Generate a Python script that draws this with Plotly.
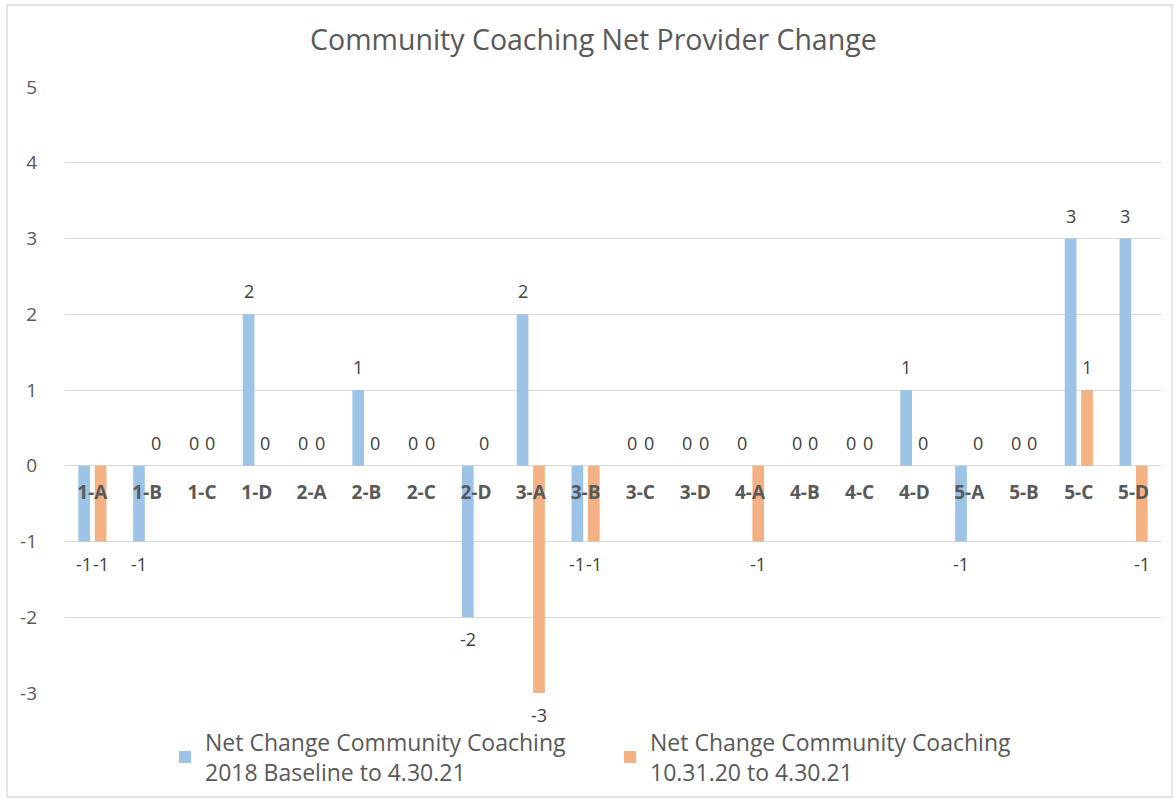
import plotly.graph_objects as go

categories = ["1-A", "1-B", "1-C", "1-D", "2-A", "2-B", "2-C", "2-D", "3-A", "3-B",
              "3-C", "3-D", "4-A", "4-B", "4-C", "4-D", "5-A", "5-B", "5-C", "5-D"]
baseline_2018 = [-1, -1, 0, 2, 0, 1, 0, -2, 2, -1, 0, 0, 0, 0, 0, 1, -1, 0, 3, 3]
since_oct_2020 = [-1, 0, 0, 0, 0, 0, 0, 0, -3, -1, 0, 0, -1, 0, 0, 0, 0, 0, 1, -1]
series_names = ["Net Change Community Coaching<br>2018 Baseline to 4.30.21",
                "Net Change Community Coaching<br>10.31.20 to 4.30.21"]
y_ticks = [-3, -2, -1, 0, 1, 2, 3, 4, 5]

FONT = "Open Sans, sans-serif"
W, H = 1175, 799
L, R, T, B = 65, 14, 87, 106

fig = go.Figure()
series = [(series_names[0], baseline_2018, "#9DC3E6", -8.3),
          (series_names[1], since_oct_2020, "#F4B183", 8.3)]
annotations = []
for name, vals, color, shift in series:
    fig.add_trace(go.Bar(
        x=categories, y=vals, name=name, marker=dict(color=color, line=dict(width=0)),
    ))
    for c, v in zip(categories, vals):
        annotations.append(dict(
            x=c, y=v, xref="x", yref="y", text=str(v), showarrow=False,
            xshift=shift, yshift=23 if v >= 0 else -22, xanchor="center", yanchor="middle",
            font=dict(family=FONT, size=18, color="#404040"),
        ))

pw, ph = W - L - R, H - T - B
def px(x):
    return (x - L) / pw
def py(y):
    return (H - B - y) / ph

fig.update_layout(
    width=W, height=H,
    margin=dict(l=L, r=R, t=T, b=B, autoexpand=False),
    paper_bgcolor="white", plot_bgcolor="white",
    barmode="group", bargap=0.4, bargroupgap=0.29,
    title=dict(text="Community Coaching Net Provider Change", x=0.505, xanchor="center",
               y=1 - 40 / H, yanchor="middle",
               font=dict(family=FONT, size=28.5, color="#595959")),
    showlegend=True,
    legend=dict(orientation="h", x=px(165), xanchor="left", y=py(757), yanchor="middle",
                entrywidth=400, entrywidthmode="pixels",
                font=dict(family=FONT, size=23, color="#595959"),
                itemwidth=30, traceorder="normal"),
    xaxis=dict(anchor="free", position=3 / 8, showline=False, showgrid=False,
               ticks="", tickfont=dict(family=FONT, size=19, color="#595959"),
               tickangle=0, ticklabelstandoff=13, zeroline=False, automargin=False),
    yaxis=dict(range=[-3, 5], tickvals=y_ticks, ticktext=[str(v) for v in y_ticks],
               showgrid=True, gridcolor="#D9D9D9",
               gridwidth=1.3, zeroline=False, showline=False, ticks="", automargin=False,
               tickfont=dict(family=FONT, size=19, color="#595959"), ticklabelstandoff=27),
    font=dict(family=FONT),
    annotations=annotations,
    shapes=[dict(type="rect", xref="paper", yref="paper",
                 x0=px(7), x1=px(1172), y0=py(797), y1=py(5),
                 line=dict(color="#D9D9D9", width=1.3), fillcolor="rgba(0,0,0,0)", layer="below")],
)
fig.update_xaxes(tickfont_weight="bold")
fig.write_html("out.html", config={"displayModeBar": False},
               post_script="document.body.style.margin='0';")
